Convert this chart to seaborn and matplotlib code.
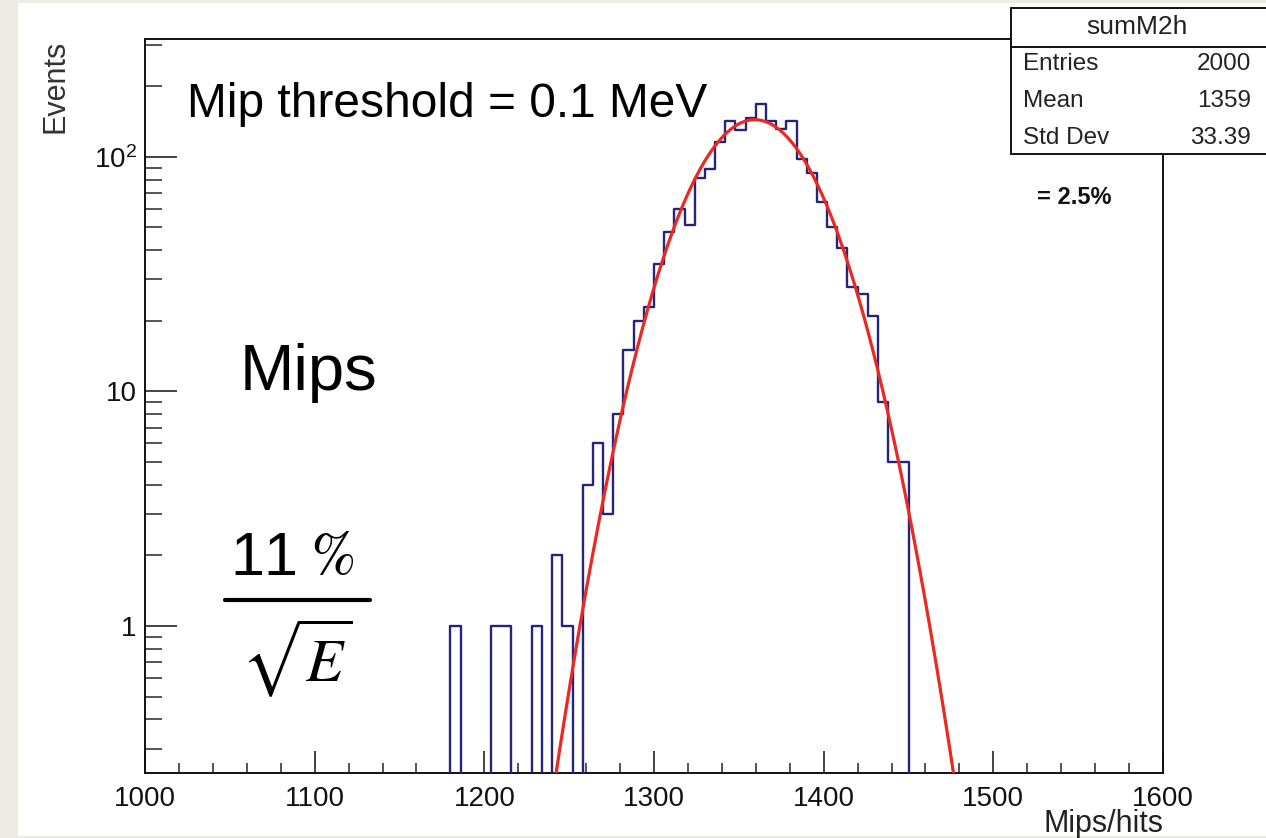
import numpy as np
import matplotlib
matplotlib.use("Agg")
import matplotlib.pyplot as plt
from matplotlib.patches import Rectangle
from matplotlib.lines import Line2D
from matplotlib.ticker import MultipleLocator, LogLocator, FixedLocator, FixedFormatter, NullFormatter
import seaborn as sns

# ---------------- data ----------------
bin_low_edges = [1180, 1204, 1210, 1228, 1240, 1246, 1258, 1264, 1270, 1276,
                 1282, 1288, 1294, 1300, 1306, 1312, 1318, 1324, 1330, 1336,
                 1342, 1348, 1354, 1360, 1366, 1372, 1378, 1384, 1390, 1396,
                 1402, 1408, 1414, 1420, 1426, 1432, 1438, 1444]
bin_counts = [1, 1, 1, 1, 2, 1, 4, 6, 3, 8,
              15, 20, 23, 35, 48, 60, 51, 81, 89, 116,
              142, 130, 147, 168, 142, 131, 142, 98, 85, 64,
              50, 41, 28, 26, 21, 9, 5, 5]
bin_width = 6
hist_range = (1000, 1600)

# gaussian fit parameters
fit_constant = 144.0
fit_mean = 1359.4
fit_sigma = 32.7

x_ticks = [1000, 1100, 1200, 1300, 1400, 1500, 1600]
x_tick_labels = ["1000", "1100", "1200", "1300", "1400", "1500", "1600"]
y_ticks = [1, 10, 100]
y_tick_labels = ["1", "10", r"$10^{2}$"]

stats_title = "sumM2h"
stats_names = ["Entries", "Mean", "Std Dev"]
stats_values = ["2000", "1359", "33.39"]

# ---------------- style ----------------
sns.set_style("ticks")
plt.rcParams["font.family"] = ["Liberation Sans", "DejaVu Sans"]
plt.rcParams["mathtext.default"] = "regular"

W, H = 1266, 838
fig = plt.figure(figsize=(W / 100, H / 100), dpi=100)
fig.patch.set_facecolor("#eeebe5")

def fx(x):
    return x / W

def fy(y):
    return 1 - y / H

# white sheet
fig.patches.append(Rectangle((fx(18), fy(836)), fx(1266) - fx(18), fy(3) - fy(836),
                             transform=fig.transFigure, facecolor="white",
                             edgecolor="none", zorder=-10))

ax_l, ax_r, ax_t, ax_b = 145, 1163, 39, 773
ax = fig.add_axes([fx(ax_l), fy(ax_b), fx(ax_r) - fx(ax_l), fy(ax_t) - fy(ax_b)])
ax.set_facecolor("white")

bin_centers = [e + bin_width / 2 for e in bin_low_edges]
sns.histplot(x=bin_centers, weights=bin_counts, binwidth=bin_width, binrange=hist_range,
             element="step", fill=False, color="#23247a", linewidth=1.7, ax=ax, zorder=3)

fit_x = np.linspace(hist_range[0], hist_range[1], 1201)
fit_y = fit_constant * np.exp(-0.5 * ((fit_x - fit_mean) / fit_sigma) ** 2)
sns.lineplot(x=fit_x, y=fit_y, color="#ea2a22", linewidth=2.3, ax=ax, zorder=4)

ax.set_yscale("log")
ax.set_xlim(*hist_range)
ax.set_ylim(0.236, 318)

ax.xaxis.set_major_locator(FixedLocator(x_ticks))
ax.xaxis.set_major_formatter(FixedFormatter(x_tick_labels))
ax.xaxis.set_minor_locator(MultipleLocator(20))
ax.yaxis.set_major_locator(FixedLocator(y_ticks))
ax.yaxis.set_major_formatter(FixedFormatter(y_tick_labels))
ax.yaxis.set_minor_locator(LogLocator(base=10, subs=(2, 3, 4, 5, 6, 7, 8, 9), numticks=20))
ax.yaxis.set_minor_formatter(NullFormatter())

ax.tick_params(axis="x", which="major", direction="in", length=16, width=1.1,
               labelsize=20, pad=9, colors="#111111", top=False)
ax.tick_params(axis="x", which="minor", direction="in", length=7.5, width=1.1, top=False)
ax.tick_params(axis="y", which="major", direction="in", length=23, width=1.1,
               labelsize=20, pad=6, colors="#111111", right=False)
ax.tick_params(axis="y", which="minor", direction="in", length=12, width=1.1, right=False)
for s in ax.spines.values():
    s.set_linewidth(1.4)
    s.set_color("#111111")
ax.set_xlabel("")
ax.set_ylabel("")
ax.grid(False)

# axis titles
fig.text(fx(55), fy(40), "Events", rotation=90, ha="center", va="top",
         fontsize=22, color="#333333")
fig.text(fx(1163), fy(832), "Mips/hits", ha="right", va="baseline",
         fontsize=22, color="#222222")

# annotations
fig.text(fx(187), fy(117), "Mip threshold = 0.1 MeV", ha="left", va="baseline",
         fontsize=34.5, color="black")
fig.text(fx(240), fy(390), "Mips", ha="left", va="baseline",
         fontsize=47, color="black")

# resolution fraction
fig.text(fx(292), fy(575), r"$11\;\mathit{\%}$", ha="center", va="baseline",
         fontsize=44, color="black", math_fontfamily="stix")
fig.add_artist(Line2D([fx(225), fx(370)], [fy(600), fy(600)], transform=fig.transFigure,
                      color="black", linewidth=3))
fig.text(fx(297), fy(682), r"$\sqrt{\mathit{E}}$", ha="center", va="baseline",
         fontsize=44, color="black", math_fontfamily="stix")

# stats box
box = Rectangle((fx(1011), fy(154)), fx(1275) - fx(1011), fy(8) - fy(154),
                transform=fig.transFigure, facecolor="white", edgecolor="#111111",
                linewidth=1.4, zorder=20)
fig.add_artist(box)
fig.add_artist(Line2D([fx(1011), fx(1275)], [fy(47), fy(47)], transform=fig.transFigure,
                      color="#111111", linewidth=1.4, zorder=21))
fig.text(fx(1137), fy(27), stats_title, ha="center", va="center", fontsize=19,
         color="#222222", zorder=22)
for i, (n, v) in enumerate(zip(stats_names, stats_values)):
    yy = 64 + i * 37
    fig.text(fx(1023), fy(yy), n, ha="left", va="center", fontsize=17.5,
             color="#222222", zorder=22)
    fig.text(fx(1251), fy(yy), v, ha="right", va="center", fontsize=17.5,
             color="#222222", zorder=22)

fig.text(fx(1037), fy(197), "= 2.5%", ha="left", va="center", fontsize=17,
         fontweight="bold", color="#111111")

fig.savefig("out.png", dpi=100, facecolor=fig.get_facecolor())
